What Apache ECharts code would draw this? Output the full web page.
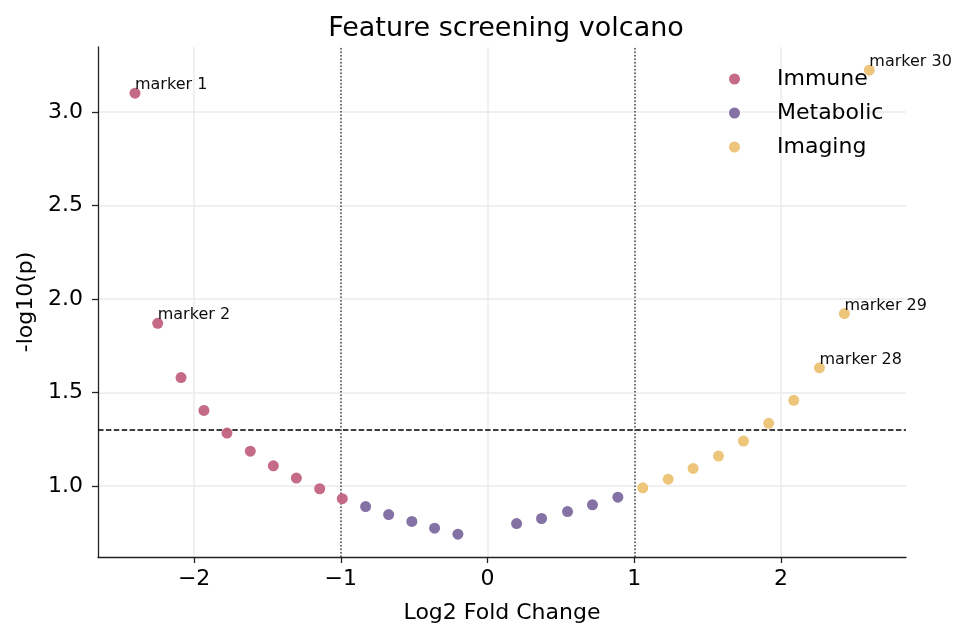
<!DOCTYPE html>
<html>
<head>
<meta charset="utf-8">
<script src="https://cdn.jsdelivr.net/npm/echarts@6/dist/echarts.min.js"></script>
<style>
  html, body { margin: 0; padding: 0; background: #fff; }
  #chart { width: 970px; height: 641px; }
</style>
</head>
<body>
<div id="chart"></div>
<script>
// values
var groups = ['Immune', 'Metabolic', 'Imaging'];
var groupColors = ['#c2637f', '#7d6aa0', '#ecc274'];

var immuneX = [-2.403, -2.248, -2.089, -1.933, -1.776, -1.617, -1.460, -1.303, -1.144, -0.990];
var immuneY = [3.102, 1.871, 1.581, 1.405, 1.284, 1.187, 1.109, 1.043, 0.986, 0.933];

var metabolicX = [-0.831, -0.674, -0.516, -0.361, -0.202, 0.198, 0.368, 0.545, 0.715, 0.888];
var metabolicY = [0.891, 0.848, 0.811, 0.775, 0.743, 0.800, 0.827, 0.864, 0.900, 0.941];

var imagingX = [1.058, 1.231, 1.401, 1.574, 1.744, 1.916, 2.087, 2.262, 2.432, 2.602];
var imagingY = [0.991, 1.037, 1.095, 1.161, 1.241, 1.336, 1.459, 1.633, 1.923, 3.225];

// which points get a text label (marker number = position in the full list, 1-based)
var labelled = [1, 2, 28, 29, 30];

var xTicks = [-2, -1, 0, 1, 2];
var yTicks = [1.0, 1.5, 2.0, 2.5, 3.0];
var pThreshold = 1.301;
var fcThresholds = [-1, 1];

var FONT = 'DejaVu Sans';

function buildData(xs, ys, offset) {
  return xs.map(function (x, i) {
    var n = offset + i + 1;
    var item = { value: [x, ys[i]] };
    if (labelled.indexOf(n) >= 0) {
      item.label = {
        show: true,
        formatter: 'marker ' + n,
        position: [5.5, 5.5],
        align: 'left',
        verticalAlign: 'bottom',
        color: '#000',
        fontSize: 16,
        fontFamily: FONT
      };
    }
    return item;
  });
}

var xsAll = [immuneX, metabolicX, imagingX];
var ysAll = [immuneY, metabolicY, imagingY];

var series = groups.map(function (name, g) {
  return {
    name: name,
    type: 'scatter',
    symbol: 'circle',
    symbolSize: 11,
    itemStyle: { color: groupColors[g], opacity: 0.95 },
    data: buildData(xsAll[g], ysAll[g], g * 10),
    z: 5
  };
});

// threshold lines
series[0].markLine = {
  silent: true,
  symbol: 'none',
  label: { show: false },
  animation: false,
  data: [
    { yAxis: pThreshold, lineStyle: { color: '#000', type: [5.5, 2.4], width: 1.5 } }
  ].concat(fcThresholds.map(function (v) {
    return { xAxis: v, lineStyle: { color: '#444', type: [1.5, 2], width: 1.5 } };
  }))
};

var chart = echarts.init(document.getElementById('chart'), null, { renderer: 'canvas' });

var minus = function (v) { return String(v).replace('-', '\u2212'); };

chart.setOption({
  backgroundColor: '#fff',
  animation: false,
  textStyle: { fontFamily: FONT },
  title: {
    text: 'Feature screening volcano',
    left: 501,
    textAlign: 'center',
    top: 10,
    textStyle: { fontFamily: FONT, fontSize: 27, fontWeight: 'normal', color: '#000' }
  },
  legend: {
    orient: 'vertical',
    left: 724,
    top: 62,
    icon: 'circle',
    itemWidth: 11,
    itemHeight: 11,
    itemGap: 10,
    data: groups,
    textStyle: { fontFamily: FONT, fontSize: 22, color: '#000', lineHeight: 24, padding: [0, 0, 0, 32] }
  },
  grid: { left: 98, right: 64, top: 47, bottom: 84, containLabel: false },
  xAxis: {
    type: 'value',
    min: -2.655,
    max: 2.852,
    name: 'Log2 Fold Change',
    nameLocation: 'middle',
    nameGap: 45,
    nameTextStyle: { fontFamily: FONT, fontSize: 22, color: '#000' },
    axisLine: { show: true, onZero: false, lineStyle: { color: '#222', width: 1.3 } },
    axisTick: { show: true, length: 6, lineStyle: { color: '#222', width: 1.3 }, customValues: xTicks },
    axisLabel: {
      fontFamily: FONT, fontSize: 22, color: '#000', margin: 11,
      customValues: xTicks,
      formatter: function (v) { return minus(v); }
    },
    splitLine: { show: true, lineStyle: { color: '#ebebeb', width: 1.5 } }
  },
  yAxis: {
    type: 'value',
    min: 0.621,
    max: 3.349,
    name: '-log10(p)',
    nameLocation: 'middle',
    nameGap: 60,
    nameTextStyle: { fontFamily: FONT, fontSize: 22, color: '#000' },
    axisLine: { show: true, onZero: false, lineStyle: { color: '#222', width: 1.3 } },
    axisTick: { show: true, length: 6, lineStyle: { color: '#222', width: 1.3 }, customValues: yTicks },
    axisLabel: {
      fontFamily: FONT, fontSize: 22, color: '#000', margin: 15,
      customValues: yTicks,
      formatter: function (v) { return Number(v).toFixed(1); }
    },
    splitLine: { show: true, lineStyle: { color: '#ebebeb', width: 1.5 } }
  },
  series: series
});
</script>
</body>
</html>
